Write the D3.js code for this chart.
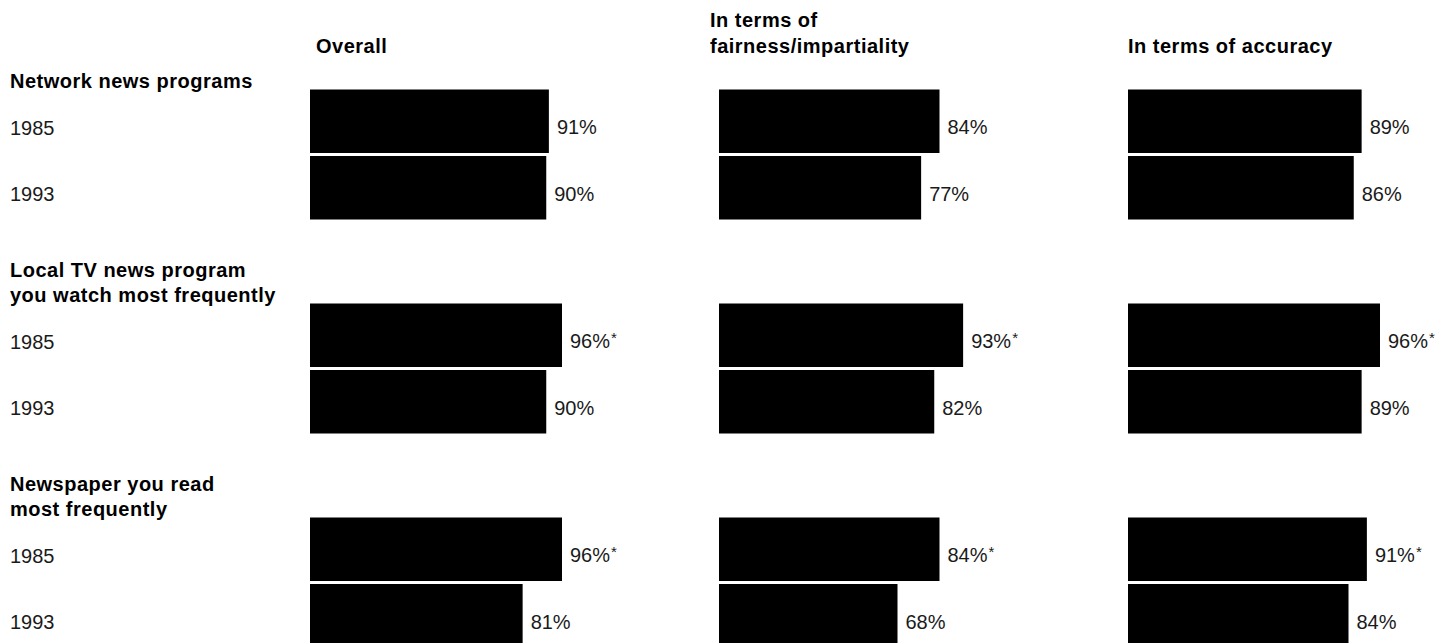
<!DOCTYPE html>
<html>
<head>
<meta charset="utf-8">
<script src="https://cdn.jsdelivr.net/npm/d3@7"></script>
<style>
  html, body { margin: 0; padding: 0; background: #fff; }
  svg { display: block; }
  .bold { font-family: "Liberation Sans", Arial, Helvetica, sans-serif; font-weight: bold; font-size: 20px; letter-spacing: 0.5px; fill: #000; }
  .reg  { font-family: "Liberation Sans", Arial, Helvetica, sans-serif; font-size: 20px; fill: #1a1a1a; }
</style>
</head>
<body>
<svg id="chart" width="1448" height="643"></svg>
<script>
// Survey results: share rating each news source as believable, 1985 vs 1993
const sources = [
  ["Network news programs"],
  ["Local TV news program", "you watch most frequently"],
  ["Newspaper you read", "most frequently"]
];
const years = ["1985", "1993"];
const measures = [
  ["Overall"],
  ["In terms of", "fairness/impartiality"],
  ["In terms of accuracy"]
];
// values[source][year] for each measure
const overall  = [[91, 90], [96, 90], [96, 81]];
const fairness = [[84, 77], [93, 82], [84, 68]];
const accuracy = [[89, 86], [96, 89], [91, 84]];
// statistically significant difference marker (*)
const marked   = [[false, false], [true, false], [true, false]];

const measureValues = [overall, fairness, accuracy];

const svg = d3.select("#chart");

// layout
const firstBarTop = 89.5, groupStep = 214;
const colStart = 310, colStep = 409, barMax = 262.5;
const headerShift = [6, -9, 0];

const groupIdx = d3.range(sources.length);
const colIdx = d3.range(measures.length);

const yGroup = d3.scaleBand().domain(groupIdx)
  .range([firstBarTop, firstBarTop + groupStep * sources.length]);
const yYear = d3.scaleBand().domain(years).range([0, 130])
  .paddingInner(3 / 66.5).paddingOuter(0);
const xCol = d3.scaleBand().domain(colIdx)
  .range([colStart, colStart + colStep * measures.length]);
const x = d3.scaleLinear().domain([0, 100]).range([0, barMax]);

// column headers (bottom-aligned)
colIdx.forEach(c => {
  const lines = measures[c];
  const t = svg.append("text").attr("class", "bold")
    .attr("x", xCol(c) + headerShift[c]);
  lines.forEach((ln, i) => {
    t.append("tspan")
      .attr("x", xCol(c) + headerShift[c])
      .attr("y", 53 - (lines.length - 1 - i) * 26)
      .text(ln);
  });
});

// row group headers and year labels
groupIdx.forEach(g => {
  const top = yGroup(g);
  const lines = sources[g];
  const t = svg.append("text").attr("class", "bold");
  lines.forEach((ln, i) => {
    t.append("tspan")
      .attr("x", 10)
      .attr("y", top - 1.5 - (lines.length - 1 - i) * 25)
      .text(ln);
  });
  years.forEach(yr => {
    svg.append("text").attr("class", "reg")
      .attr("x", 10)
      .attr("y", top + yYear(yr) + yYear.bandwidth() / 2 + 13.5)
      .text(yr);
  });
});

// bars and value labels
colIdx.forEach(c => {
  const colG = svg.append("g").attr("transform", `translate(${xCol(c)},0)`);
  groupIdx.forEach(g => {
    years.forEach((yr, yi) => {
      const v = measureValues[c][g][yi];
      const y0 = yGroup(g) + yYear(yr);
      colG.append("rect")
        .attr("x", x(0))
        .attr("y", y0)
        .attr("width", x(v) - x(0))
        .attr("height", yYear.bandwidth())
        .attr("fill", "#000");
      const lbl = colG.append("text").attr("class", "reg")
        .attr("x", x(v) + 8)
        .attr("y", y0 + yYear.bandwidth() / 2 + 13)
        .text(v + "%");
      if (marked[g][yi]) {
        lbl.append("tspan")
          .attr("font-size", "15px")
          .attr("dy", -5.5)
          .attr("dx", 1)
          .text("*");
      }
    });
  });
});
</script>
</body>
</html>
